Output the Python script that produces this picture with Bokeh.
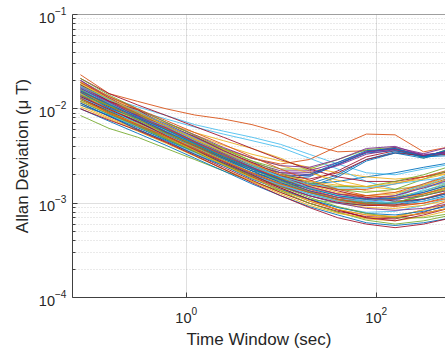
from bokeh.plotting import figure
from bokeh.models import FixedTicker, Span, ColumnDataSource
from bokeh.embed import file_html
from bokeh.resources import INLINE

# averaging times (s), octave spaced
tau = [0.077, 0.154, 0.308, 0.615, 1.23, 2.46, 4.92, 9.85, 19.7, 39.4, 78.8, 158, 315, 630]

# Allan deviation of each sensor, in units of 1e-3 uT, read at the tau points above
s01 = [14, 10, 7.4, 5.4, 4.0, 3.0, 2.3, 1.8, 1.6, 1.7, 1.9, 2.1, 2.4, 2.7]
s02 = [23, 14.5, 12, 10, 8.6, 7.8, 6.8, 5.6, 4.2, 3.5, 3.6, 3.7, 3.1, 3.4]
s03 = [17, 12, 9, 7, 5.6, 4.6, 3.8, 3.0, 2.2, 1.6, 1.35, 1.3, 1.45, 1.7]
s04 = [16, 11.5, 8.5, 6.2, 4.6, 3.4, 2.6, 2.1, 2.0, 2.6, 3.5, 3.8, 3.2, 3.6]
s05 = [8.5, 6.2, 5.0, 3.8, 2.9, 2.2, 1.7, 1.35, 1.1, 1.0, 0.95, 1.0, 1.2, 1.4]
s06 = [19, 13, 10.5, 8.5, 6.8, 5.8, 5.0, 4.2, 3.3, 2.6, 2.1, 2.0, 2.3, 2.6]
s07 = [14, 10, 7.4, 5.5, 4.0, 3.0, 2.3, 1.85, 1.7, 2.2, 3.1, 3.6, 3.2, 3.3]
s08 = [10, 7.4, 5.5, 4.1, 3.0, 2.2, 1.6, 1.2, 0.92, 0.75, 0.62, 0.58, 0.62, 0.7]
s09 = [17, 12, 9, 6.5, 5, 3.8, 3.0, 2.6, 2.9, 4.0, 5.4, 5.3, 3.5, 4.0]
s10 = [18, 12.8, 9.4, 7.0, 5.3, 4.1, 3.3, 2.8, 2.4, 2.1, 1.9, 1.8, 1.9, 2.1]
s11 = [16, 10.5, 8.6, 5.6, 4.2, 3.1, 2.3, 1.7, 1.35, 1.15, 1.05, 1.1, 1.3, 1.6]
s12 = [18, 12.5, 9.2, 6.8, 5.0, 3.7, 2.8, 2.3, 2.3, 2.9, 3.7, 3.9, 3.0, 3.9]
s13 = [18, 12, 9.5, 7.8, 6.4, 5.4, 4.6, 3.9, 3.0, 2.3, 1.7, 1.4, 1.5, 1.7]
s14 = [13, 9.2, 6.8, 5.0, 3.6, 2.6, 1.9, 1.45, 1.1, 0.85, 0.7, 0.68, 0.8, 1.0]
s15 = [13, 9.4, 7.0, 5.1, 3.8, 2.8, 2.1, 1.7, 1.6, 2.0, 2.9, 3.5, 3.1, 3.2]
s16 = [19, 13, 9.4, 6.8, 4.9, 3.6, 2.6, 1.95, 1.5, 1.25, 1.15, 1.2, 1.5, 1.9]
s17 = [11, 8, 6.0, 4.4, 3.2, 2.3, 1.7, 1.3, 1.0, 0.8, 0.68, 0.65, 0.72, 0.85]
s18 = [15, 10.8, 8.0, 5.8, 4.3, 3.2, 2.4, 2.0, 1.95, 2.55, 3.45, 3.75, 3.15, 3.5]
s19 = [15, 10.5, 7.6, 5.5, 4.0, 2.9, 2.1, 1.6, 1.25, 1.05, 0.95, 1.0, 1.25, 1.55]
s20 = [12, 8.6, 6.4, 4.7, 3.4, 2.5, 1.85, 1.4, 1.1, 0.9, 0.8, 0.82, 0.95, 1.15]
s21 = [21, 14.5, 11, 8.5, 6.5, 5.0, 3.8, 2.9, 2.3, 1.9, 1.7, 1.7, 1.9, 2.2]
s22 = [12, 8.8, 6.6, 4.9, 3.6, 2.7, 2.1, 1.8, 1.9, 2.6, 3.4, 3.6, 3.1, 3.7]
s23 = [17, 12, 8.6, 6.2, 4.5, 3.3, 2.4, 1.85, 1.55, 1.4, 1.4, 1.6, 1.9, 2.3]
s24 = [14, 10, 7.2, 5.2, 3.8, 2.8, 2.05, 1.55, 1.2, 1.0, 0.9, 0.88, 0.95, 1.1]
s25 = [17, 12, 8.8, 6.5, 4.8, 3.5, 2.7, 2.2, 2.2, 2.7, 3.5, 3.9, 3.35, 4.0]
s26 = [18, 12.5, 9, 6.5, 4.7, 3.4, 2.5, 1.85, 1.45, 1.2, 1.1, 1.15, 1.35, 1.65]
s27 = [13.5, 9.6, 7.0, 5.1, 3.7, 2.7, 2.0, 1.5, 1.2, 1.0, 0.95, 1.05, 1.4, 1.9]
s28 = [14.5, 10.5, 7.7, 5.6, 4.1, 3.1, 2.4, 2.0, 1.8, 2.1, 2.9, 3.4, 3.2, 3.6]
s29 = [16.5, 11.5, 8.4, 6.1, 4.4, 3.2, 2.35, 1.75, 1.35, 1.1, 0.98, 0.95, 1.05, 1.25]
s30 = [12.5, 9, 6.6, 4.8, 3.5, 2.55, 1.9, 1.4, 1.05, 0.85, 0.75, 0.72, 0.85, 1.1]
s31 = [15, 11, 8.2, 6.2, 4.7, 3.7, 3.0, 2.5, 2.1, 1.75, 1.5, 1.4, 1.55, 1.8]
s32 = [20, 13.5, 9.8, 7.2, 5.3, 3.9, 3.0, 2.5, 2.4, 2.9, 3.8, 4.0, 3.2, 3.6]
s33 = [21, 14, 10, 7.2, 5.2, 3.8, 2.8, 2.1, 1.65, 1.4, 1.3, 1.4, 1.8, 2.3]
s34 = [14.5, 10.3, 7.5, 5.4, 3.9, 2.85, 2.1, 1.6, 1.25, 1.05, 1.0, 1.15, 1.5, 2.0]
s35 = [11.5, 8.3, 6.1, 4.5, 3.3, 2.4, 1.75, 1.3, 1.0, 0.82, 0.72, 0.7, 0.78, 0.9]
s36 = [11.5, 8.4, 6.3, 4.7, 3.5, 2.65, 2.0, 1.6, 1.5, 1.9, 2.8, 3.4, 3.0, 3.5]
s37 = [15.5, 11, 7.9, 5.7, 4.1, 3.0, 2.2, 1.65, 1.3, 1.08, 0.97, 0.92, 1.0, 1.2]
s38 = [19.5, 13.5, 9.6, 6.9, 5.0, 3.6, 2.65, 2.0, 1.55, 1.3, 1.2, 1.25, 1.55, 2.0]
s39 = [15.5, 11, 8.2, 6.0, 4.4, 3.3, 2.5, 2.1, 2.1, 2.5, 3.3, 3.7, 3.3, 3.4]
s40 = [12, 8.8, 6.5, 4.8, 3.5, 2.55, 1.85, 1.35, 1.0, 0.8, 0.66, 0.6, 0.65, 0.75]
s41 = [16, 11.2, 8.1, 5.9, 4.3, 3.1, 2.3, 1.7, 1.3, 1.1, 1.0, 1.08, 1.35, 1.7]
s42 = [13, 9.4, 6.9, 5.0, 3.65, 2.65, 1.95, 1.5, 1.2, 1.02, 0.94, 0.96, 1.1, 1.35]
s43 = [13.5, 9.7, 7.2, 5.3, 3.9, 2.9, 2.2, 1.9, 2.0, 2.7, 3.6, 3.8, 3.1, 3.8]
s44 = [17.5, 12.2, 8.8, 6.4, 4.6, 3.35, 2.45, 1.8, 1.4, 1.15, 1.02, 1.0, 1.12, 1.35]
s45 = [10.5, 7.8, 5.8, 4.3, 3.15, 2.3, 1.7, 1.25, 0.95, 0.78, 0.7, 0.72, 0.85, 1.0]
s46 = [14, 10, 7.3, 5.3, 3.85, 2.8, 2.05, 1.55, 1.2, 1.0, 0.88, 0.84, 0.88, 1.0]
s47 = [16, 10.8, 8.9, 6.0, 4.5, 3.2, 2.5, 1.95, 1.6, 1.5, 1.5, 1.7, 2.0, 2.5]
s48 = [13, 10, 6.9, 5.3, 3.7, 2.8, 2.0, 1.55, 1.25, 1.1, 1.05, 1.2, 1.6, 2.1]
s49 = [18, 12, 9.8, 6.6, 5.1, 3.6, 2.7, 2.0, 1.6, 1.35, 1.15, 1.05, 1.1, 1.3]
s50 = [11, 8.5, 6.0, 4.6, 3.3, 2.5, 1.8, 1.4, 1.1, 0.9, 0.78, 0.75, 0.82, 0.95]
s51 = [15, 11.5, 8.0, 6.2, 4.4, 3.2, 2.4, 1.8, 1.45, 1.25, 1.2, 1.3, 1.6, 2.0]
s52 = [14.5, 9.8, 7.8, 5.2, 3.9, 2.85, 2.1, 1.6, 1.3, 1.15, 1.1, 1.1, 1.25, 1.45]
s53 = [20, 13, 9.0, 6.9, 5.0, 3.6, 2.6, 1.95, 1.5, 1.25, 1.12, 1.1, 1.2, 1.4]
s54 = [12.5, 9.3, 6.8, 4.9, 3.6, 2.6, 1.95, 1.5, 1.15, 0.92, 0.78, 0.7, 0.7, 0.78]
s55 = [17, 11.5, 8.2, 6.5, 4.6, 3.3, 2.45, 1.9, 1.6, 1.45, 1.45, 1.6, 1.75, 1.9]
s56 = [13.5, 9.9, 7.3, 5.2, 3.7, 2.75, 2.0, 1.45, 1.1, 0.85, 0.7, 0.65, 0.75, 0.9]
s57 = [15, 10.2, 7.9, 5.7, 4.2, 3.0, 2.2, 1.65, 1.3, 1.1, 1.0, 1.0, 1.1, 1.3]
s58 = [19, 13.5, 10, 7.5, 5.6, 4.2, 3.1, 2.3, 1.75, 1.4, 1.2, 1.15, 1.25, 1.5]
s59 = [12, 9.0, 7.0, 5.0, 3.6, 2.55, 1.85, 1.38, 1.06, 0.86, 0.75, 0.72, 0.78, 0.9]
s60 = [16.5, 11.8, 8.3, 6.3, 4.5, 3.3, 2.4, 1.75, 1.35, 1.15, 1.1, 1.2, 1.45, 1.8]
s61 = [14, 10.8, 7.6, 5.5, 4.2, 3.1, 2.3, 1.72, 1.32, 1.1, 1.0, 1.02, 1.2, 1.45]
s62 = [17.5, 12.5, 9.4, 6.8, 4.9, 3.5, 2.55, 1.9, 1.45, 1.2, 1.05, 1.0, 1.05, 1.2]
s63 = [10, 7.6, 5.9, 4.4, 3.2, 2.3, 1.65, 1.2, 0.9, 0.7, 0.6, 0.55, 0.6, 0.7]
s64 = [15.5, 11.2, 8.1, 6.0, 4.3, 3.1, 2.3, 1.78, 1.42, 1.2, 1.1, 1.12, 1.3, 1.6]
s65 = [13, 9.0, 6.8, 5.1, 3.75, 2.8, 2.1, 1.6, 1.3, 1.1, 0.98, 0.95, 1.0, 1.15]
s66 = [18.5, 12.8, 9.1, 6.6, 4.8, 3.5, 2.6, 2.0, 1.7, 1.55, 1.5, 1.65, 1.8, 2.1]

sensors = [s01, s02, s03, s04, s05, s06, s07, s08, s09, s10, s11, s12, s13, s14, s15,
           s16, s17, s18, s19, s20, s21, s22, s23, s24, s25, s26, s27, s28, s29, s30,
           s31, s32, s33, s34, s35, s36, s37, s38, s39, s40, s41, s42, s43, s44, s45,
           s46, s47, s48, s49, s50, s51, s52, s53, s54, s55, s56, s57, s58, s59, s60,
           s61, s62, s63, s64, s65, s66]

y_ticks = [1e-4, 1e-3, 1e-2, 1e-1]
x_ticks = [1e-2, 1e0, 1e2, 1e4]

palette = ["#0072BD", "#D95319", "#EDB120", "#7E2F8E", "#77AC30", "#4DBEEE", "#A2142F"]

src = ColumnDataSource(dict(
    xs=[tau for _ in sensors],
    ys=[[v * 1e-3 for v in s] for s in sensors],
    color=[palette[i % len(palette)] for i in range(len(sensors))],
))

p = figure(width=445, height=354, x_axis_type="log", y_axis_type="log",
           x_range=(0.0635, 536), y_range=(1e-4, 1e-1),
           output_backend="svg", toolbar_location=None,
           min_border_left=72, min_border_right=0, min_border_top=14, min_border_bottom=57)
p.outline_line_color = None
p.background_fill_color = "white"
p.border_fill_color = "white"

p.multi_line(xs="xs", ys="ys", line_color="color", line_width=0.9, source=src)

minor_y = [k * d for d in (1e-4, 1e-3, 1e-2) for k in range(2, 10)]
p.xaxis.ticker = FixedTicker(ticks=x_ticks, minor_ticks=[])
p.yaxis.ticker = FixedTicker(ticks=y_ticks, minor_ticks=minor_y)

p.xaxis.axis_label = "Time Window (sec)"
p.yaxis.axis_label = "Allan Deviation (\u03bc T)"

for ax in (p.xaxis[0], p.yaxis[0]):
    ax.axis_label_text_font = "Liberation Sans"
    ax.axis_label_text_font_size = "17px"
    ax.axis_label_text_font_style = "normal"
    ax.axis_label_text_color = "#262626"
    ax.major_label_text_font = "Liberation Sans"
    ax.major_label_text_font_size = "14.5px"
    ax.major_label_text_color = "#262626"
    ax.axis_line_color = "#404040"
    ax.major_tick_line_color = "#404040"
    ax.minor_tick_line_color = "#404040"
    ax.major_tick_in = 5
    ax.major_tick_out = 0
    ax.minor_tick_in = 3
    ax.minor_tick_out = 0

p.yaxis.major_label_standoff = 6
p.yaxis.axis_label_standoff = 4
p.xaxis.major_label_standoff = 9
p.xaxis.axis_label_standoff = 4

p.xgrid.grid_line_color = "#262626"
p.xgrid.grid_line_alpha = 0.15
p.ygrid.grid_line_color = "#262626"
p.ygrid.grid_line_alpha = 0.15
p.ygrid.minor_grid_line_color = "#262626"
p.ygrid.minor_grid_line_alpha = 0.2
p.ygrid.minor_grid_line_dash = "1 2"

p.add_layout(Span(location=1e-1, dimension="width", line_color="#404040", line_width=1))

open("out.html", "w").write(file_html(p, INLINE))
